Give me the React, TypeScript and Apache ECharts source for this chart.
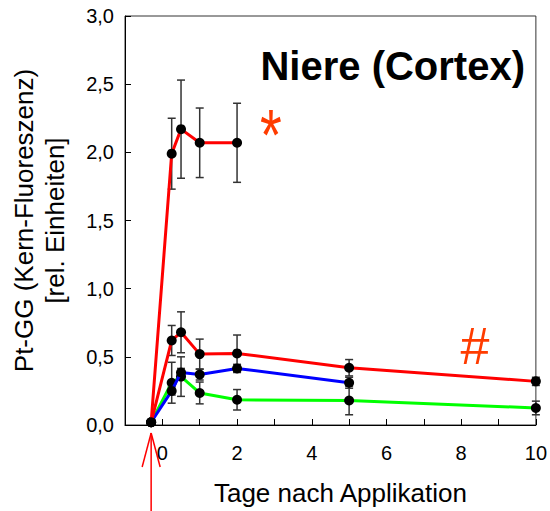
import React, { useEffect, useRef } from "react";
import * as echarts from "echarts";

// Day of application (drawn slightly before day 0) and the common start value
const APPLICATION_DAY = -0.3;

// Highest dose (significant, *)
const redHighDays = [-0.3, 0.25, 0.5, 1, 2];
const redHighValues = [0.02, 1.99, 2.17, 2.07, 2.07];
const redHighErrors = [0, 0.26, 0.36, 0.255, 0.29];

// Red, lower curve (#)
const redLowDays = [-0.3, 0.25, 0.5, 1, 2, 5, 10];
const redLowValues = [0.02, 0.62, 0.68, 0.52, 0.525, 0.42, 0.32];
const redLowErrors = [0, 0.11, 0.15, 0.11, 0.135, 0.06, 0.03];

// Blue curve
const blueDays = [-0.3, 0.25, 0.5, 1, 2, 5];
const blueValues = [0.02, 0.25, 0.385, 0.37, 0.415, 0.31];
const blueErrors = [0, 0.03, 0.03, 0.04, 0.03, 0.04];

// Green curve
const greenDays = [-0.3, 0.25, 0.5, 1, 2, 5, 10];
const greenValues = [0.02, 0.31, 0.355, 0.235, 0.185, 0.18, 0.125];
const greenErrors = [0, 0.15, 0.145, 0.08, 0.075, 0.105, 0.05];

const xTickValues = [0, 2, 4, 6, 8, 10];

const FONT = "'Liberation Sans', Arial, sans-serif";

type Curve = { name: string; days: number[]; values: number[]; errors: number[]; color: string };

const curves: Curve[] = [
  { name: "green", days: greenDays, values: greenValues, errors: greenErrors, color: "#00ff00" },
  { name: "blue", days: blueDays, values: blueValues, errors: blueErrors, color: "#0000ff" },
  { name: "redLow", days: redLowDays, values: redLowValues, errors: redLowErrors, color: "#ff0000" },
  { name: "redHigh", days: redHighDays, values: redHighValues, errors: redHighErrors, color: "#ff0000" },
];

function errorBarRenderer(params: any, api: any) {
  const x = api.value(0);
  const y = api.value(1);
  const e = api.value(2);
  if (!e) return null;
  const top = api.coord([x, y + e]);
  const bot = api.coord([x, y - e]);
  const cap = 4;
  const style = { stroke: "#333", lineWidth: 1.5 };
  return {
    type: "group",
    children: [
      { type: "line", shape: { x1: top[0], y1: top[1], x2: bot[0], y2: bot[1] }, style },
      { type: "line", shape: { x1: top[0] - cap, y1: top[1], x2: top[0] + cap, y2: top[1] }, style },
      { type: "line", shape: { x1: bot[0] - cap, y1: bot[1], x2: bot[0] + cap, y2: bot[1] }, style },
    ],
  };
}

export default function App() {
  const ref = useRef<HTMLDivElement>(null);

  useEffect(() => {
    if (!ref.current) return;
    const chart = echarts.init(ref.current, undefined, { renderer: "svg" });

    const series: any[] = [];
    curves.forEach((c) => {
      series.push({
        name: c.name + "-err",
        type: "custom",
        renderItem: errorBarRenderer,
        encode: { x: 0, y: 1 },
        data: c.days.map((d, i) => [d, c.values[i], c.errors[i]]),
        z: 1,
        silent: true,
      });
    });
    curves.forEach((c, k) => {
      series.push({
        name: c.name,
        type: "line",
        data: c.days.map((d, i) => [d, c.values[i]]),
        symbol: "circle",
        symbolSize: 10,
        itemStyle: { color: "#000" },
        lineStyle: { color: c.color, width: 3 },
        z: 3 + k,
      });
    });

    chart.setOption({
      animation: false,
      backgroundColor: "#fff",
      grid: { left: 123, right: 13, top: 16, bottom: 83, show: true, borderColor: "#333", borderWidth: 1 },
      xAxis: {
        type: "value",
        min: -1,
        max: 10,
        interval: 1,
        name: "Tage nach Applikation",
        nameLocation: "middle",
        nameGap: 55,
        nameTextStyle: { fontSize: 26, color: "#000", fontFamily: FONT, padding: [0, 0, 0, 20] },
        axisLine: { show: true, onZero: false, lineStyle: { color: "#000", width: 1 } },
        axisTick: { show: true, inside: true, length: 6, lineStyle: { color: "#000" } },
        axisLabel: {
          fontSize: 20,
          color: "#000",
          fontFamily: FONT,
          margin: 18,
          showMaxLabel: true,
          formatter: (v: number) => (xTickValues.includes(v) ? String(v) : ""),
        },
        splitLine: { show: false },
      },
      yAxis: {
        type: "value",
        min: 0,
        max: 3,
        interval: 0.5,
        name: "Pt-GG (Kern-Fluoreszenz)\n[rel. Einheiten]",
        nameLocation: "middle",
        nameRotate: 90,
        nameGap: 55,
        nameTextStyle: { fontSize: 26, lineHeight: 31, color: "#000", fontFamily: FONT },
        axisLine: { show: true, onZero: false, lineStyle: { color: "#000", width: 1 } },
        axisTick: { show: true, inside: true, length: 6, lineStyle: { color: "#000" } },
        axisLabel: {
          fontSize: 20,
          color: "#000",
          fontFamily: FONT,
          margin: 11,
          formatter: (v: number) => v.toFixed(1).replace(".", ","),
        },
        splitLine: { show: false },
      },
      series,
    });

    // Arrow marking the application time, placed from the x scale
    const px = chart.convertToPixel({ xAxisIndex: 0 }, APPLICATION_DAY) as number;
    const axisBottom = 511 - 83;
    const arrowStyle = { stroke: "#ff0000", lineWidth: 1.5 };

    chart.setOption({
      graphic: [
        {
          type: "text",
          x: 525,
          y: 66,
          style: {
            text: "Niere (Cortex)",
            fontSize: 40,
            fontWeight: "bold",
            fontFamily: FONT,
            fill: "#000",
            textAlign: "right",
            textVerticalAlign: "middle",
          },
        },
        {
          type: "text",
          x: 271,
          y: 135,
          scaleY: 1.3,
          style: {
            text: "*",
            fontSize: 56,
            fontFamily: FONT,
            fill: "#ff3c00",
            textAlign: "center",
            textVerticalAlign: "middle",
          },
        },
        {
          type: "text",
          x: 475,
          y: 346,
          style: {
            text: "#",
            fontSize: 52,
            fontFamily: FONT,
            fill: "#ff3c00",
            textAlign: "center",
            textVerticalAlign: "middle",
          },
        },
        { type: "line", shape: { x1: px, y1: axisBottom + 5, x2: px, y2: 511 }, style: arrowStyle },
        { type: "line", shape: { x1: px, y1: axisBottom + 5, x2: px - 9, y2: axisBottom + 39 }, style: arrowStyle },
        { type: "line", shape: { x1: px, y1: axisBottom + 5, x2: px + 9, y2: axisBottom + 39 }, style: arrowStyle },
      ],
    });

    return () => chart.dispose();
  }, []);

  return (
    <div
      ref={ref}
      style={{ position: "fixed", left: 0, top: 0, width: 550, height: 511, background: "#fff" }}
    />
  );
}
